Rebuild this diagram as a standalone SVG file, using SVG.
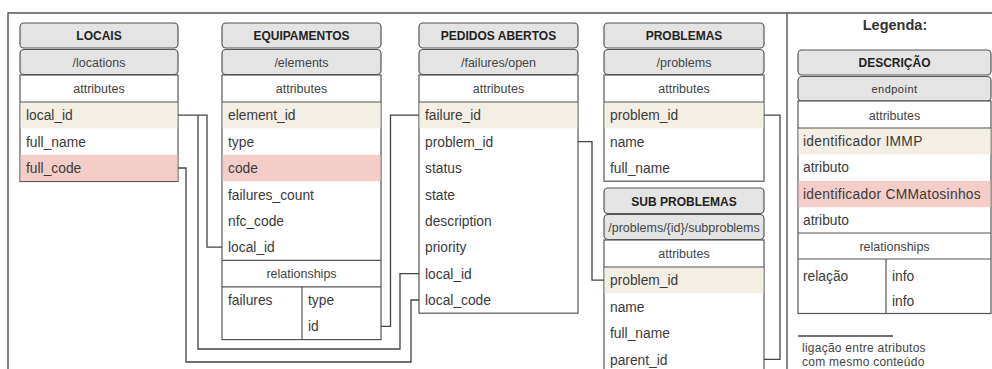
<svg xmlns="http://www.w3.org/2000/svg" width="992" height="369" viewBox="0 0 992 369">
  <style>
    .hdr { fill: #e4e4e4; stroke: #555; stroke-width: 1.2; }
    .box { fill: #ffffff; stroke: #555; stroke-width: 1.2; }
    .sep { stroke: #555; stroke-width: 1.2; fill: none; }
    .key { fill: #f3efe4; }
    .ext { fill: #f4cdc8; }
    .frame { fill: none; stroke: #555; stroke-width: 1.4; }
    .link { fill: none; stroke: #444; stroke-width: 1.3; }
    text { font-family: "Liberation Sans", Arial, sans-serif; fill: #333; }
    .title { font-size: 12px; font-weight: bold; fill: #222; text-anchor: middle; }
    .sub { font-size: 12.5px; text-anchor: middle; fill: #444; }
    .sec { font-size: 12.5px; text-anchor: middle; fill: #444; }
    .row { font-size: 13.8px; fill: #3a3a3a; }
    .note { font-size: 12px; letter-spacing: 0.25px; fill: #444; }
  </style>

  <!-- outer frame (open at the bottom), top rule runs over the legend too -->
  <path class="frame" d="M8,369 V13 H992 M787,13 V369"/>

  <!-- LOCAIS -->
  <g id="locais">
    <rect class="hdr" x="20" y="23" width="158" height="25" rx="4"/>
    <text class="title" x="99" y="40">LOCAIS</text>
    <rect class="hdr" x="20" y="49.5" width="158" height="25" rx="4"/>
    <text class="sub" x="99" y="66.5">/locations</text>
    <rect class="box" x="20" y="75" width="158" height="106.5"/>
    <text class="sec" x="99" y="93">attributes</text>
    <rect class="key" x="20.6" y="102" width="156.8" height="26.4"/>
    <rect class="ext" x="20.6" y="154.8" width="156.8" height="26.1"/>
    <line class="sep" x1="20" y1="102" x2="178" y2="102"/>
    <text class="row" x="26" y="120">local_id</text>
    <text class="row" x="26" y="146.5">full_name</text>
    <text class="row" x="26" y="173">full_code</text>
  </g>

  <!-- EQUIPAMENTOS -->
  <g id="equipamentos">
    <rect class="hdr" x="222" y="23" width="159" height="25" rx="4"/>
    <text class="title" x="301.5" y="40">EQUIPAMENTOS</text>
    <rect class="hdr" x="222" y="49.5" width="159" height="25" rx="4"/>
    <text class="sub" x="301.5" y="66.5">/elements</text>
    <rect class="box" x="222" y="75" width="159" height="264.6"/>
    <text class="sec" x="301.5" y="93">attributes</text>
    <rect class="key" x="222.6" y="102" width="157.8" height="26.4"/>
    <rect class="ext" x="222.6" y="154.8" width="157.8" height="26.4"/>
    <line class="sep" x1="222" y1="102" x2="381" y2="102"/>
    <text class="row" x="228" y="120">element_id</text>
    <text class="row" x="228" y="146.5">type</text>
    <text class="row" x="228" y="173">code</text>
    <text class="row" x="228" y="199.5">failures_count</text>
    <text class="row" x="228" y="226">nfc_code</text>
    <text class="row" x="228" y="252">local_id</text>
    <line class="sep" x1="222" y1="260.4" x2="381" y2="260.4"/>
    <text class="sec" x="301.5" y="278">relationships</text>
    <line class="sep" x1="222" y1="286.8" x2="381" y2="286.8"/>
    <line class="sep" x1="302" y1="286.8" x2="302" y2="339.6"/>
    <text class="row" x="228" y="304.5">failures</text>
    <text class="row" x="308" y="304.5">type</text>
    <text class="row" x="308" y="331">id</text>
  </g>

  <!-- PEDIDOS ABERTOS -->
  <g id="pedidos-abertos">
    <rect class="hdr" x="419" y="23" width="159" height="25" rx="4"/>
    <text class="title" x="498.5" y="40">PEDIDOS ABERTOS</text>
    <rect class="hdr" x="419" y="49.5" width="159" height="25" rx="4"/>
    <text class="sub" x="498.5" y="66.5">/failures/open</text>
    <rect class="box" x="419" y="75" width="159" height="238.2"/>
    <text class="sec" x="498.5" y="93">attributes</text>
    <rect class="key" x="419.6" y="102" width="157.8" height="26.4"/>
    <line class="sep" x1="419" y1="102" x2="578" y2="102"/>
    <text class="row" x="425" y="120">failure_id</text>
    <text class="row" x="425" y="146.5">problem_id</text>
    <text class="row" x="425" y="173">status</text>
    <text class="row" x="425" y="199.5">state</text>
    <text class="row" x="425" y="226">description</text>
    <text class="row" x="425" y="252">priority</text>
    <text class="row" x="425" y="278.5">local_id</text>
    <text class="row" x="425" y="305">local_code</text>
  </g>

  <!-- PROBLEMAS -->
  <g id="problemas">
    <rect class="hdr" x="604" y="23" width="160" height="25" rx="4"/>
    <text class="title" x="684" y="40">PROBLEMAS</text>
    <rect class="hdr" x="604" y="49.5" width="160" height="25" rx="4"/>
    <text class="sub" x="684" y="66.5">/problems</text>
    <rect class="box" x="604" y="75" width="160" height="106.2"/>
    <text class="sec" x="684" y="93">attributes</text>
    <rect class="key" x="604.6" y="102" width="158.8" height="26.4"/>
    <line class="sep" x1="604" y1="102" x2="764" y2="102"/>
    <text class="row" x="610" y="120">problem_id</text>
    <text class="row" x="610" y="146.5">name</text>
    <text class="row" x="610" y="173">full_name</text>
  </g>

  <!-- SUB PROBLEMAS (runs past the bottom edge) -->
  <g id="sub-problemas">
    <rect class="hdr" x="604" y="188" width="160" height="25.5" rx="4"/>
    <text class="title" x="684" y="205.5">SUB PROBLEMAS</text>
    <rect class="hdr" x="604" y="214.5" width="160" height="25" rx="4"/>
    <text class="sub" x="684" y="231.5">/problems/{id}/subproblems</text>
    <rect class="box" x="604" y="240" width="160" height="140"/>
    <text class="sec" x="684" y="258">attributes</text>
    <rect class="key" x="604.6" y="267" width="158.8" height="26.4"/>
    <line class="sep" x1="604" y1="267" x2="764" y2="267"/>
    <text class="row" x="610" y="285">problem_id</text>
    <text class="row" x="610" y="311.5">name</text>
    <text class="row" x="610" y="338">full_name</text>
    <text class="row" x="610" y="364.5">parent_id</text>
  </g>

  <!-- connectors between attributes holding the same value -->
  <g id="connectors">
    <path class="link" d="M178,115.2 H207 V247.2 H222"/>
    <path class="link" d="M198,115.2 V349 H400 V273.6 H419"/>
    <path class="link" d="M178,168 H186 V362 H411 V300 H419"/>
    <path class="link" d="M381,326.4 H390.5 V115.2 H419"/>
    <path class="link" d="M578,141.6 H592 V280.2 H604"/>
    <path class="link" d="M764,115.2 H780 V359.4 H764"/>
  </g>

  <!-- legend -->
  <g id="legenda">
    <text x="895" y="30" font-size="14.5" font-weight="bold" text-anchor="middle" fill="#222">Legenda:</text>
    <rect class="hdr" x="798" y="50" width="193" height="25" rx="4"/>
    <text class="title" x="894.5" y="66.5" font-size="10.5">DESCRIÇÃO</text>
    <rect class="hdr" x="798" y="76.5" width="193" height="24.5" rx="4"/>
    <text x="894.5" y="93" font-size="11" letter-spacing="0.5" text-anchor="middle" fill="#444">endpoint</text>
    <rect class="box" x="798" y="101" width="193" height="212.5"/>
    <text class="sec" x="894.5" y="119.5">attributes</text>
    <rect class="key" x="798.6" y="128" width="191.8" height="26.4"/>
    <rect class="ext" x="798.6" y="181" width="191.8" height="26.2"/>
    <line class="sep" x1="798" y1="128" x2="991" y2="128"/>
    <text class="row" x="803" y="145.5" font-size="14" letter-spacing="0.3">identificador IMMP</text>
    <text class="row" x="803" y="172" font-size="14">atributo</text>
    <text class="row" x="803" y="198.5" font-size="14" letter-spacing="0.3">identificador CMMatosinhos</text>
    <text class="row" x="803" y="225" font-size="14">atributo</text>
    <line class="sep" x1="798" y1="233" x2="991" y2="233"/>
    <text class="sec" x="894.5" y="251">relationships</text>
    <line class="sep" x1="798" y1="259" x2="991" y2="259"/>
    <line class="sep" x1="886" y1="259" x2="886" y2="313.5"/>
    <text class="row" x="803" y="281" font-size="14">relação</text>
    <text class="row" x="892" y="281" font-size="14">info</text>
    <text class="row" x="892" y="306" font-size="14">info</text>
    <line class="link" x1="798" y1="336" x2="893" y2="336"/>
    <text class="note" x="802" y="352">ligação entre atributos</text>
    <text class="note" x="802" y="366">com mesmo conteúdo</text>
  </g>
</svg>
